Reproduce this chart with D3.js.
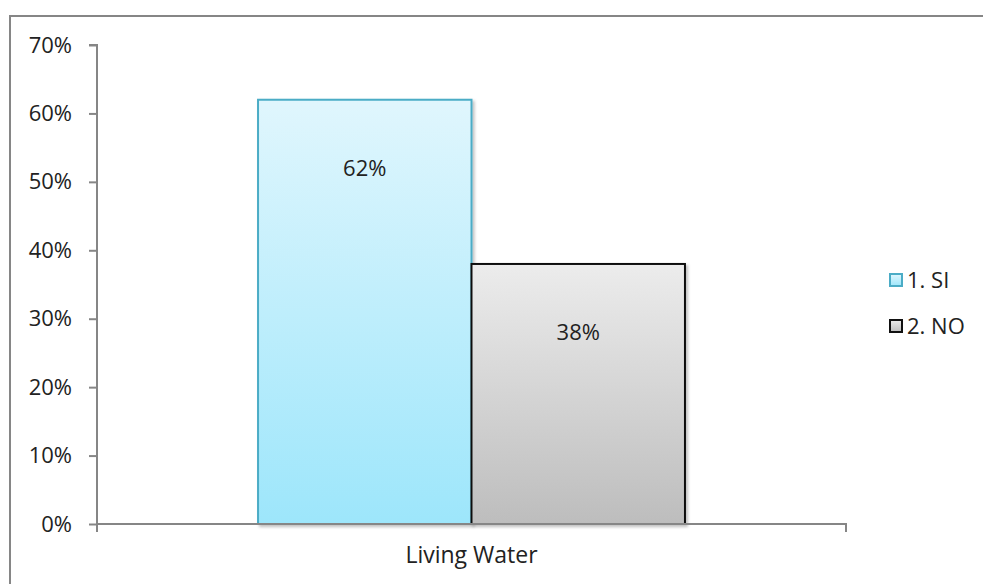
<!DOCTYPE html>
<html>
<head>
<meta charset="utf-8">
<script src="https://cdn.jsdelivr.net/npm/d3@7"></script>
<style>
  body { margin: 0; background: #fff; }
  text { font-family: "Open Sans", "Liberation Sans", sans-serif; fill: #222; }
</style>
</head>
<body>
<div id="chart"></div>
<script>
// data
var categories = ["Living Water"];
var seriesNames = ["1. SI", "2. NO"];
var seriesValues = [62, 38];
var yTicks = [0, 10, 20, 30, 40, 50, 60, 70];

var width = 983, height = 584;
var margin = {top: 45, right: 137, bottom: 60, left: 97};

var svg = d3.select("#chart").append("svg")
    .attr("width", width)
    .attr("height", height);

// gradients for the two series
var defs = svg.append("defs");
var grads = [
  {id: "gSi", top: "#e0f6fd", bottom: "#9de6fb", stroke: "#4bacc6"},
  {id: "gNo", top: "#ececec", bottom: "#bdbdbd", stroke: "#111"}
];
grads.forEach(function(g) {
  var lg = defs.append("linearGradient")
      .attr("id", g.id).attr("x1", 0).attr("y1", 0).attr("x2", 0).attr("y2", 1);
  lg.append("stop").attr("offset", "0%").attr("stop-color", g.top);
  lg.append("stop").attr("offset", "100%").attr("stop-color", g.bottom);
});
var shadow = defs.append("filter").attr("id", "shadow")
    .attr("x", "-10%").attr("y", "-10%").attr("width", "130%").attr("height", "130%");
shadow.append("feDropShadow").attr("dx", 2).attr("dy", 2).attr("stdDeviation", 1.5)
    .attr("flood-color", "#000").attr("flood-opacity", 0.25);

// outer chart border
svg.append("rect")
    .attr("x", 10).attr("y", 16)
    .attr("width", 1000).attr("height", 600)
    .attr("fill", "none")
    .attr("stroke", "#868686")
    .attr("stroke-width", 2);

var plotW = 846 - margin.left;
var plotH = 524 - margin.top;

var g = svg.append("g").attr("transform", "translate(" + margin.left + "," + margin.top + ")");

var x0 = d3.scaleBand().domain(categories).range([0, plotW]).paddingInner(0).paddingOuter(0);
var x1 = d3.scaleBand().domain(seriesNames).range([x0.bandwidth() * 0.215, x0.bandwidth() * 0.785]);
var y = d3.scaleLinear().domain([0, 70]).range([plotH, 0]);

// bars
var bars = g.selectAll("g.cat")
    .data(categories)
    .enter().append("g")
    .attr("class", "cat")
    .attr("transform", function(d) { return "translate(" + x0(d) + ",0)"; });

bars.selectAll("rect")
    .data(seriesNames.map(function(s, i) { return {name: s, value: seriesValues[i], i: i}; }))
    .enter().append("rect")
    .attr("x", function(d) { return x1(d.name); })
    .attr("y", function(d) { return y(d.value); })
    .attr("width", x1.bandwidth())
    .attr("height", function(d) { return plotH - y(d.value); })
    .attr("fill", function(d) { return "url(#" + grads[d.i].id + ")"; })
    .attr("stroke", function(d) { return grads[d.i].stroke; })
    .attr("stroke-width", 2)
    .attr("filter", "url(#shadow)");

bars.selectAll("text.val")
    .data(seriesNames.map(function(s, i) { return {name: s, value: seriesValues[i]}; }))
    .enter().append("text")
    .attr("class", "val")
    .attr("x", function(d) { return x1(d.name) + x1.bandwidth() / 2; })
    .attr("y", function(d) { return y(d.value) + 76; })
    .attr("text-anchor", "middle")
    .style("font-size", "22px")
    .text(function(d) { return d.value + "%"; });

// y axis
var yAxis = d3.axisLeft(y).tickValues(yTicks).tickSize(8).tickPadding(17)
    .tickFormat(function(d) { return d + "%"; });
var ya = g.append("g").call(yAxis);
ya.select(".domain").attr("stroke", "#868686").attr("stroke-width", 2).attr("d", "M0," + plotH + "V0H-8");
ya.selectAll(".tick line").attr("stroke", "#868686").attr("stroke-width", 2);
ya.selectAll(".tick text").style("font-size", "22px").attr("fill", "#222");

// x axis
var xAxis = d3.axisBottom(x0).tickSize(0).tickPadding(23);
var xa = g.append("g").attr("transform", "translate(0," + plotH + ")").call(xAxis);
xa.select(".domain").attr("stroke", "#868686").attr("stroke-width", 2)
    .attr("d", "M0,8V0H" + plotW + "V8");
xa.selectAll(".tick text").style("font-size", "23px").attr("fill", "#222");

// legend
var legend = svg.append("g").attr("transform", "translate(889,272)");
var items = legend.selectAll("g")
    .data(seriesNames)
    .enter().append("g")
    .attr("transform", function(d, i) { return "translate(0," + (i * 46) + ")"; });
items.append("rect")
    .attr("x", 1).attr("y", 2).attr("width", 12).attr("height", 12)
    .attr("fill", function(d, i) { return "url(#" + grads[i].id + ")"; })
    .attr("stroke", function(d, i) { return grads[i].stroke; })
    .attr("stroke-width", 2);
items.append("text")
    .attr("x", 18).attr("y", 16)
    .style("font-size", "22px")
    .text(function(d) { return d; });
</script>
</body>
</html>
